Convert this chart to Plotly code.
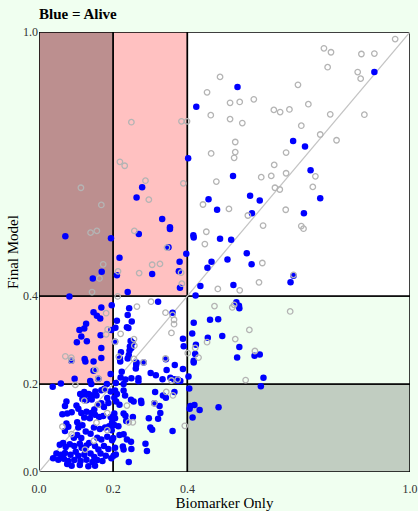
import plotly.graph_objects as go

# Predicted risk per patient: biomarker-only model (x) vs final model (y)
alive_x = [
    0.424, 0.402, 0.535, 0.904, 0.685, 0.717, 0.732, 0.523, 0.758, 0.569, 0.595, 0.457, 0.480, 0.574, 0.714,
    0.416, 0.417, 0.488, 0.518, 0.397, 0.560, 0.508, 0.465, 0.454, 0.573, 0.686, 0.678, 0.435, 0.524, 0.422,
    0.278, 0.263, 0.332, 0.353, 0.353, 0.071, 0.194, 0.269, 0.349, 0.217, 0.169, 0.145, 0.210, 0.305, 0.379,
    0.377, 0.380, 0.239, 0.082,
    0.168, 0.196, 0.147, 0.156, 0.165, 0.127, 0.109, 0.122, 0.114, 0.102, 0.129, 0.166, 0.195, 0.168, 0.087,
    0.123, 0.125, 0.147, 0.168, 0.147, 0.096, 0.160, 0.138, 0.141, 0.059, 0.037, 0.193, 0.183,
    0.210, 0.205, 0.206, 0.243, 0.321, 0.237, 0.241, 0.250, 0.239, 0.247, 0.252, 0.245, 0.249, 0.244, 0.242,
    0.239, 0.263, 0.261, 0.282, 0.218, 0.223, 0.220, 0.207, 0.268, 0.301, 0.315, 0.344, 0.366, 0.333, 0.354,
    0.364, 0.375, 0.388, 0.360, 0.388, 0.390, 0.374, 0.342, 0.233, 0.249, 0.219, 0.221, 0.262,
    0.417, 0.413, 0.423, 0.421, 0.417, 0.417, 0.532, 0.539, 0.540, 0.461, 0.483, 0.455, 0.494, 0.540, 0.534,
    0.581, 0.595, 0.605, 0.598, 0.403, 0.405, 0.381,
    0.408, 0.406, 0.419, 0.433, 0.484, 0.414,
    0.228, 0.268, 0.205, 0.210, 0.203, 0.208, 0.228, 0.232, 0.248, 0.255, 0.275, 0.276, 0.313, 0.334, 0.342,
    0.365, 0.217, 0.311, 0.325, 0.327, 0.321, 0.296, 0.203, 0.228, 0.233, 0.253, 0.235, 0.197, 0.203, 0.300,
    0.305, 0.360, 0.217, 0.228, 0.237, 0.248, 0.197, 0.287, 0.226, 0.228, 0.249, 0.291, 0.201, 0.242,
    0.176, 0.168, 0.155, 0.193, 0.184, 0.126, 0.139, 0.117, 0.128, 0.142, 0.074, 0.070, 0.101, 0.106, 0.159,
    0.168, 0.175, 0.187, 0.063, 0.076, 0.088, 0.114, 0.128, 0.141, 0.149, 0.151, 0.122, 0.137, 0.162, 0.173,
    0.193, 0.205, 0.074, 0.079, 0.070, 0.103, 0.106, 0.117, 0.148, 0.164, 0.178, 0.189, 0.196, 0.214, 0.126,
    0.139, 0.094, 0.103, 0.114, 0.157, 0.168, 0.184, 0.200, 0.056, 0.065, 0.072, 0.083, 0.095, 0.110, 0.115,
    0.128, 0.135, 0.124, 0.151, 0.160, 0.175, 0.187, 0.205, 0.047, 0.059, 0.070, 0.085, 0.099, 0.106, 0.122,
    0.139, 0.149, 0.166, 0.180, 0.195, 0.207, 0.038, 0.052, 0.067, 0.079, 0.095, 0.112, 0.128, 0.144, 0.157,
    0.171, 0.076, 0.088, 0.110, 0.133, 0.151, 0.111, 0.122, 0.134, 0.145, 0.152,
]
alive_y = [
    0.830, 0.713, 0.875, 0.909, 0.752, 0.740, 0.686, 0.673, 0.622, 0.628, 0.617, 0.620, 0.596, 0.588, 0.588,
    0.538, 0.533, 0.530, 0.528, 0.496, 0.497, 0.483, 0.478, 0.464, 0.472, 0.446, 0.431, 0.423, 0.425, 0.401,
    0.647, 0.624, 0.575, 0.556, 0.552, 0.536, 0.531, 0.541, 0.511, 0.487, 0.455, 0.440, 0.447, 0.450, 0.478,
    0.456, 0.419, 0.409, 0.399,
    0.374, 0.379, 0.363, 0.355, 0.349, 0.337, 0.323, 0.326, 0.308, 0.295, 0.297, 0.311, 0.323, 0.282, 0.253,
    0.257, 0.251, 0.251, 0.259, 0.230, 0.212, 0.212, 0.207, 0.200, 0.201, 0.194, 0.223, 0.200,
    0.344, 0.296, 0.328, 0.372, 0.387, 0.329, 0.327, 0.342, 0.357, 0.298, 0.294, 0.285, 0.282, 0.276, 0.266,
    0.258, 0.249, 0.235, 0.249, 0.258, 0.228, 0.215, 0.202, 0.213, 0.225, 0.220, 0.232, 0.243, 0.211, 0.214,
    0.211, 0.207, 0.234, 0.362, 0.303, 0.286, 0.210, 0.256, 0.210, 0.213, 0.251, 0.272, 0.244,
    0.339, 0.315, 0.289, 0.268, 0.253, 0.249, 0.386, 0.378, 0.372, 0.346, 0.347, 0.305, 0.309, 0.284, 0.260,
    0.264, 0.267, 0.214, 0.195, 0.217, 0.190, 0.207,
    0.150, 0.144, 0.152, 0.141, 0.147, 0.124,
    0.200, 0.206, 0.185, 0.177, 0.169, 0.160, 0.185, 0.174, 0.164, 0.160, 0.162, 0.157, 0.182, 0.174, 0.169,
    0.182, 0.153, 0.156, 0.150, 0.134, 0.121, 0.122, 0.133, 0.133, 0.128, 0.125, 0.116, 0.113, 0.107, 0.101,
    0.096, 0.093, 0.084, 0.086, 0.074, 0.069, 0.072, 0.064, 0.058, 0.051, 0.052, 0.048, 0.037, 0.023,
    0.189, 0.186, 0.174, 0.183, 0.168, 0.177, 0.174, 0.166, 0.163, 0.165, 0.160, 0.150, 0.151, 0.144, 0.153,
    0.156, 0.148, 0.157, 0.131, 0.133, 0.136, 0.134, 0.137, 0.134, 0.142, 0.130, 0.124, 0.122, 0.125, 0.127,
    0.125, 0.122, 0.110, 0.103, 0.093, 0.113, 0.101, 0.106, 0.101, 0.098, 0.101, 0.104, 0.095, 0.104, 0.092,
    0.087, 0.078, 0.084, 0.077, 0.078, 0.074, 0.080, 0.077, 0.062, 0.066, 0.057, 0.063, 0.059, 0.064, 0.055,
    0.060, 0.066, 0.051, 0.059, 0.051, 0.059, 0.052, 0.055, 0.042, 0.039, 0.043, 0.039, 0.046, 0.037, 0.039,
    0.042, 0.034, 0.042, 0.037, 0.031, 0.040, 0.031, 0.028, 0.030, 0.025, 0.027, 0.025, 0.028, 0.023, 0.027,
    0.025, 0.018, 0.014, 0.016, 0.013, 0.014, 0.177, 0.182, 0.177, 0.174, 0.183,
]

dead_x = [
    0.249, 0.384, 0.399, 0.453, 0.218, 0.231, 0.960, 0.768, 0.787, 0.869, 0.904, 0.778, 0.859, 0.867, 0.488,
    0.698, 0.515, 0.541, 0.579, 0.463, 0.515, 0.548, 0.633, 0.650, 0.675, 0.726, 0.785, 0.877, 0.707, 0.758,
    0.802, 0.529, 0.464, 0.529, 0.526, 0.666, 0.634, 0.745, 0.599, 0.626, 0.666, 0.478, 0.389, 0.636, 0.649,
    0.738, 0.442, 0.512, 0.563, 0.665, 0.604, 0.707, 0.713, 0.451, 0.447, 0.602, 0.686, 0.482, 0.541, 0.593,
    0.113, 0.287, 0.296, 0.168, 0.139, 0.156, 0.257, 0.345, 0.173, 0.163, 0.213, 0.270, 0.305, 0.326, 0.383,
    0.385, 0.143, 0.212,
    0.181, 0.181, 0.185, 0.071, 0.087, 0.087, 0.152, 0.160, 0.098,
    0.205, 0.264, 0.302, 0.220, 0.256, 0.256, 0.282, 0.341, 0.357, 0.341, 0.360, 0.364, 0.364, 0.357, 0.401,
    0.421, 0.374, 0.257, 0.215,
    0.473, 0.521, 0.526, 0.677, 0.453, 0.567, 0.529, 0.430, 0.582, 0.557, 0.393,
    0.343, 0.361, 0.237, 0.311, 0.242, 0.253,
    0.178, 0.122, 0.159, 0.184, 0.063, 0.155, 0.184, 0.088, 0.148, 0.124,
]
dead_y = [
    0.795, 0.797, 0.797, 0.863, 0.705, 0.696, 0.984, 0.963, 0.954, 0.950, 0.951, 0.920, 0.909, 0.894, 0.898,
    0.880, 0.839, 0.841, 0.847, 0.811, 0.802, 0.793, 0.823, 0.818, 0.824, 0.836, 0.813, 0.812, 0.787, 0.767,
    0.754, 0.750, 0.724, 0.727, 0.714, 0.726, 0.698, 0.672, 0.670, 0.673, 0.679, 0.660, 0.656, 0.646, 0.642,
    0.648, 0.608, 0.598, 0.583, 0.596, 0.560, 0.559, 0.553, 0.546, 0.518, 0.475, 0.448, 0.416, 0.413, 0.431,
    0.646, 0.662, 0.619, 0.607, 0.544, 0.548, 0.548, 0.510, 0.472, 0.440, 0.456, 0.452, 0.471, 0.473, 0.453,
    0.428, 0.409, 0.399,
    0.361, 0.313, 0.324, 0.263, 0.260, 0.253, 0.232, 0.212, 0.198,
    0.296, 0.376, 0.387, 0.314, 0.302, 0.257, 0.249, 0.258, 0.208, 0.362, 0.357, 0.346, 0.336, 0.316, 0.270,
    0.282, 0.210, 0.287, 0.262,
    0.377, 0.374, 0.380, 0.365, 0.295, 0.323, 0.302, 0.260, 0.275, 0.209, 0.105,
    0.182, 0.174, 0.151, 0.156, 0.113, 0.113,
    0.187, 0.162, 0.153, 0.134, 0.103, 0.112, 0.095, 0.086, 0.071, 0.051,
]

# Risk cut points and axis ticks
cut_points = [0.0, 0.2, 0.4, 1.0]
tick_vals = [0.0, 0.2, 0.4, 1.0]
tick_text = ["0.0", "0.2", "0.4", "1.0"]

# Fill of each risk cell, rows = final-model band (low to high), cols = biomarker band
cell_fills = [
    ["#ffffff", "#f0fff0", "#c1cdc1"],
    ["#ffc1c1", "#ffffff", "#f0fff0"],
    ["#bc8f8f", "#ffc1c1", "#ffffff"],
]

serif = "Liberation Serif, Times New Roman, serif"

fig = go.Figure()

shapes = []
for r in range(3):
    for c in range(3):
        shapes.append(dict(
            type="rect", xref="x", yref="y", layer="below",
            x0=cut_points[c], x1=cut_points[c + 1],
            y0=cut_points[r], y1=cut_points[r + 1],
            fillcolor=cell_fills[r][c],
            line=dict(color="black", width=1.5),
        ))
shapes.append(dict(
    type="line", xref="x", yref="y", layer="below",
    x0=0, y0=0, x1=1, y1=1,
    line=dict(color="#c4c4c4", width=1.2),
))

fig.add_trace(go.Scatter(
    x=alive_x, y=alive_y, mode="markers", name="Alive",
    marker=dict(symbol="circle", size=6.5, color="#0000ff", line=dict(width=0)),
    cliponaxis=False,
))
fig.add_trace(go.Scatter(
    x=dead_x, y=dead_y, mode="markers", name="Dead",
    marker=dict(symbol="circle-open", size=5.5, color="#b4b4b4", line=dict(width=1.3)),
    cliponaxis=False,
))

fig.update_layout(
    width=418, height=511, autosize=False,
    margin=dict(l=39, r=8, t=32, b=39, pad=0, autoexpand=False),
    paper_bgcolor="#f0fff0",
    plot_bgcolor="#ffffff",
    showlegend=False,
    shapes=shapes,
    font=dict(family=serif, color="black"),
    title=dict(
        text="<b>Blue = Alive</b>",
        x=39 / 418, xanchor="left", xref="container",
        y=1 - 14 / 511, yanchor="middle", yref="container",
        font=dict(family=serif, size=15, color="black"),
    ),
    xaxis=dict(
        range=[0, 1], showgrid=False, zeroline=False, showline=False,
        automargin=False,
        tickmode="array", tickvals=tick_vals, ticktext=tick_text,
        ticks="", ticklabelstandoff=8,
        tickfont=dict(family=serif, size=12, color="#333333"),
        title=dict(text="Biomarker Only", standoff=0,
                   font=dict(family=serif, size=15, color="black")),
    ),
    yaxis=dict(
        range=[0, 1], showgrid=False, zeroline=False, showline=False,
        automargin=False,
        tickmode="array", tickvals=tick_vals, ticktext=tick_text,
        ticks="",
        tickfont=dict(family=serif, size=12, color="#333333"),
        title=dict(text="Final Model", standoff=0,
                   font=dict(family=serif, size=15, color="black")),
    ),
)

fig.write_html("out.html", config={"responsive": False})
